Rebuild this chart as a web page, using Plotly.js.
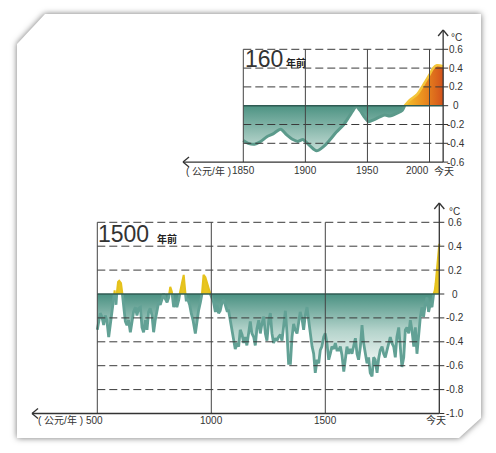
<!DOCTYPE html>
<html><head><meta charset="utf-8">
<script src="https://cdn.plot.ly/plotly-3.0.1.min.js"></script>
<style>
html,body{margin:0;padding:0;background:#fff;width:496px;height:453px;overflow:hidden;}
#shadow{position:absolute;left:0;top:0;width:496px;height:453px;filter:drop-shadow(0 0 3px rgba(0,0,0,0.55));}
#card{position:absolute;left:0;top:0;width:496px;height:453px;background:#fff;
 clip-path:polygon(45px 14px, 481px 14px, 481px 418px, 459px 438px, 17px 438px, 17px 44px);}
#chart{position:absolute;left:0;top:0;width:496px;height:453px;}
</style></head><body>
<div id="shadow"><div id="card"></div></div><div id="chart"></div>
<script>
const W = 496, H = 453;

// ---- Data: last 160 years ----
const recentYears = [1850,1854,1859,1864,1869,1874,1880,1885,1890,1894,1898,1900,1904,1909,1915,1920,1925,1931,1936,1941,1944,1948,1951,1955,1960,1964,1968,1974,1978,1980,1984,1990,1995,2000,2003,2006,2011];
const recentTemps = [-0.37,-0.40,-0.41,-0.38,-0.33,-0.30,-0.25,-0.31,-0.36,-0.38,-0.36,-0.38,-0.43,-0.48,-0.43,-0.36,-0.28,-0.20,-0.10,-0.01,-0.05,-0.13,-0.17,-0.15,-0.12,-0.10,-0.11,-0.08,-0.05,0.00,0.06,0.12,0.22,0.33,0.40,0.43,0.42];

// ---- Data: last 1500 years ----
const longYears = [
 500,506,513,520,528,535,542,550,557,564,572,576,582,586,591,596,
 604,610,615,623,630,637,645,652,659,667,674,681,689,696,
 703,711,718,725,732,740,747,754,762,769,776,784,791,798,
 806,813,820,827,835,842,849,857,864,871,879,883,890,898,
 905,912,920,930,937,944,952,959,966,974,981,988,996,1001,
 1010,1018,1025,1032,1039,1047,1054,1061,1069,1076,1083,1091,1098,
 1105,1113,1120,1127,1135,1142,1149,1156,1164,1171,1178,1186,1193,1200,
 1208,1215,1222,1230,1237,1244,1252,1259,1266,1273,1281,1288,1295,1303,
 1310,1317,1325,1332,1339,1347,1354,1361,1368,1376,1383,1390,1398,1405,
 1412,1420,1427,1434,1442,1449,1456,1464,1471,1478,1485,1493,1500,1507,
 1515,1522,1529,1537,1544,1551,1559,1566,1573,1581,1588,1595,1602,1610,
 1617,1624,1632,1639,1646,1654,1661,1668,1675,1683,1690,1697,1705,1712,
 1719,1727,1734,1741,1749,1756,1763,1770,1778,1785,1792,1800,1807,1814,
 1822,1829,1836,1844,1851,1858,1866,1873,1880,1888,1895,1902,1909,1917,
 1924,1931,1939,1946,1953,1961,1968,1975,1980,1984,1990,1994,1998,2000];
const longTemps = [
 -0.30,-0.22,-0.16,-0.19,-0.26,-0.18,-0.22,-0.36,-0.26,-0.14,-0.04,0.03,-0.09,0.02,0.10,0.11,
 0.09,0.00,-0.11,-0.23,-0.26,-0.22,-0.32,-0.22,-0.15,-0.11,-0.18,-0.12,-0.11,-0.28,
 -0.32,-0.22,-0.30,-0.15,-0.12,-0.18,-0.32,-0.22,-0.12,-0.07,-0.09,-0.03,0.00,-0.04,
 -0.07,-0.03,0.06,0.02,-0.11,-0.07,-0.11,-0.05,0.03,0.09,0.16,0.06,-0.05,-0.05,
 -0.09,-0.16,-0.22,-0.33,-0.22,-0.14,-0.07,0.00,0.16,0.14,0.10,0.06,0.00,-0.03,
 -0.07,-0.15,-0.09,-0.16,-0.14,-0.07,-0.05,-0.09,-0.14,-0.14,-0.22,-0.29,-0.36,
 -0.46,-0.41,-0.44,-0.30,-0.34,-0.41,-0.36,-0.43,-0.30,-0.23,-0.33,-0.36,-0.43,-0.29,
 -0.22,-0.33,-0.25,-0.19,-0.33,-0.39,-0.22,-0.16,-0.33,-0.41,-0.37,-0.39,-0.36,-0.34,
 -0.39,-0.28,-0.14,-0.33,-0.58,-0.58,-0.36,-0.25,-0.30,-0.33,-0.22,-0.15,-0.21,-0.30,
 -0.18,-0.11,-0.22,-0.34,-0.44,-0.50,-0.66,-0.55,-0.58,-0.47,-0.44,-0.36,-0.33,-0.41,
 -0.55,-0.50,-0.44,-0.46,-0.41,-0.47,-0.47,-0.44,-0.51,-0.65,-0.53,-0.44,-0.50,-0.46,
 -0.50,-0.43,-0.37,-0.50,-0.55,-0.44,-0.26,-0.41,-0.50,-0.58,-0.53,-0.66,-0.69,-0.53,
 -0.55,-0.66,-0.54,-0.47,-0.44,-0.50,-0.53,-0.48,-0.41,-0.36,-0.41,-0.44,-0.53,-0.36,
 -0.28,-0.44,-0.61,-0.53,-0.30,-0.28,-0.33,-0.22,-0.30,-0.44,-0.28,-0.50,-0.33,-0.19,
 -0.11,-0.19,-0.08,-0.03,-0.15,-0.08,-0.11,0.00,0.03,0.09,0.22,0.34,0.40,0.42];

// ---- Tick labels ----
const recentXTicks = [1850, 1900, 1950, 2000];
const recentYTicks = [0.6, 0.4, 0.2, 0, -0.2, -0.4, -0.6];
const recentYLabels = ['0.6','0.4','0.2','0','-0.2','-0.4','-0.6'];
const longXTicks = [500, 1000, 1500];
const longYTicks = [0.6, 0.4, 0.2, 0, -0.2, -0.4, -0.6, -0.8, -1.0];
const longYLabels = ['0.6','0.4','0.2','0','-0.2','-0.4','-0.6','-0.8','-1.0'];
const recentToday = 2011, longToday = 2000;
const unitLabel = '( 公元/年 )', todayLabel = '今天', agoLabel = '年前', degLabel = '°C';

const FONT = 'Liberation Sans, Arial, Noto Sans CJK SC, sans-serif';
const INK = '#333333';

function geom(g){
  return {
    domX:[g.l/W, g.r/W], domY:[1-g.b/H, 1-g.t/H],
    rangeX:[g.x0Val+(g.l-g.x0Px)/g.xScale, g.x0Val+(g.r-g.x0Px)/g.xScale],
    rangeY:[-(g.b-g.y0Px)/g.yScale, (g.y0Px-g.t)/g.yScale],
    dx:p=>p/g.xScale, dy:p=>p/g.yScale,
    xAt:p=>g.x0Val+(p-g.x0Px)/g.xScale, yAt:p=>(g.y0Px-p)/g.yScale
  };
}
const G1 = geom({l:175,r:460,t:22,b:178,x0Px:243.3,x0Val:1850,xScale:1.2413,y0Px:105.7,yScale:94});
const G2 = geom({l:22,r:460,t:195,b:440,x0Px:97.3,x0Val:500,xScale:0.228,y0Px:294,yScale:119.5});

function splitSigns(xs, ys){
  const neg={x:[],y:[]}, pos={x:[],y:[]};
  for(let i=0;i<xs.length;i++){
    const x=xs[i], y=ys[i];
    if(i>0){
      const xp=xs[i-1], yp=ys[i-1];
      if((yp<0&&y>0)||(yp>0&&y<0)){
        const xc = xp+(x-xp)*(-yp)/(y-yp);
        neg.x.push(xc); neg.y.push(0); pos.x.push(xc); pos.y.push(0);
      }
    }
    if(y<=0){neg.x.push(x); neg.y.push(y);}
    if(y>=0){pos.x.push(x); pos.y.push(y);}
    if(y>0){neg.x.push(x); neg.y.push(null);}
    if(y<0){pos.x.push(x); pos.y.push(null);}
  }
  return {neg,pos};
}

const s1 = splitSigns(recentYears, recentTemps);
const s2 = splitSigns(longYears, longTemps);

const traces = [
  {x:s1.neg.x, y:s1.neg.y, xaxis:'x', yaxis:'y', mode:'lines', fill:'tozeroy',
   line:{color:'#5b9a8b', width:3, shape:'spline', smoothing:0.8},
   fillgradient:{type:'vertical', start:-0.5, stop:0, colorscale:[[0,'#c9e0d9'],[1,'#4d9383']]},
   hoverinfo:'skip', showlegend:false},
  {x:s1.pos.x, y:s1.pos.y, xaxis:'x', yaxis:'y', mode:'lines', fill:'tozeroy',
   line:{color:'#f3c53a', width:2.5, shape:'spline', smoothing:0.8},
   fillgradient:{type:'horizontal', start:1980, stop:2011, colorscale:[[0,'#f5c22c'],[0.5,'#ea8c1e'],[1,'#d3521b']]},
   hoverinfo:'skip', showlegend:false},
  {x:s2.neg.x, y:s2.neg.y, xaxis:'x2', yaxis:'y2', mode:'lines', fill:'tozeroy',
   line:{color:'#62a195', width:2.8},
   fillgradient:{type:'vertical', start:-0.62, stop:0, colorscale:[[0,'#f6f9f8'],[0.5,'#b5d4cc'],[1,'#4a9182']]},
   hoverinfo:'skip', showlegend:false},
  {x:s2.pos.x, y:s2.pos.y, xaxis:'x2', yaxis:'y2', mode:'lines', fill:'tozeroy',
   line:{color:'#e5c21c', width:2}, fillcolor:'#e8c522',
   hoverinfo:'skip', showlegend:false}
];

const shapes = [], annotations = [];
function line(xr, yr, x0, y0, x1, y1, color, width, dash){
  shapes.push({type:'line', xref:xr, yref:yr, x0, y0, x1, y1, layer:'above',
    line:{color, width, dash: dash||'solid'}});
}
function text(xr, yr, x, y, t, size, xanchor, opts){
  annotations.push(Object.assign({xref:xr, yref:yr, x, y, text:t, showarrow:false,
    xanchor:xanchor||'center', yanchor:'middle',
    font:{family:FONT, size, color:INK}}, opts||{}));
}

function buildChart(G, xr, yr, xTicks, yTicks, yLabels, today, axisLeftPx, arrowTopPx, yLabelPx){
  const yMin = yTicks[yTicks.length-1], yMax = yTicks[0];
  const x0 = xTicks[0];
  yTicks.forEach(v=>{
    if(v!==0 && v!==yMin) line(xr, yr, x0, v, today, v, '#3a3a3a', 1, '8px,4px');
    line(xr, yr, today, v, today+G.dx(5), v, INK, 1);
  });
  line(xr, yr, x0, 0, today, 0, '#2f5b53', 1.5);
  xTicks.forEach(t=> line(xr, yr, t, yMin, t, yMax, '#444', 1));
  const xl = G.xAt(axisLeftPx);
  line(xr, yr, xl, yMin, today, yMin, INK, 1.3);
  line(xr, yr, xl, yMin, xl+G.dx(6), yMin+G.dy(5), INK, 1.3);
  line(xr, yr, xl, yMin, xl+G.dx(6), yMin-G.dy(5), INK, 1.3);
  const yt = G.yAt(arrowTopPx);
  line(xr, yr, today, yMin, today, yt, INK, 1.3);
  line(xr, yr, today, yt, today-G.dx(5), yt-G.dy(6), INK, 1.3);
  line(xr, yr, today, yt, today+G.dx(5), yt-G.dy(6), INK, 1.3);
  yTicks.forEach((v,i)=> text(xr, yr, G.xAt(yLabelPx), v, yLabels[i], 10, 'center'));
}

buildChart(G1, 'x', 'y', recentXTicks, recentYTicks, recentYLabels, recentToday, 183, 30, 456);
buildChart(G2, 'x2', 'y2', longXTicks, longYTicks, longYLabels, longToday, 32, 203, 454.5);

// top chart labels
const yl1 = G1.yAt(170.5);
text('x','y', G1.xAt(233), yl1, unitLabel, 10, 'right');
recentXTicks.forEach((t,i)=>{
  if(i===recentXTicks.length-1) text('x','y', t+G1.dx(1), yl1, String(t), 10, 'right');
  else text('x','y', t, yl1, String(t), 10, 'center');
});
text('x','y', G1.xAt(443.5), yl1, todayLabel, 10, 'center');
text('x','y', G1.xAt(449), G1.yAt(37), degLabel, 10, 'left');
text('x','y', G1.xAt(243), G1.yAt(58.5), '160', 23, 'left');
text('x','y', G1.xAt(284), G1.yAt(62), agoLabel, 10, 'left', {font:{family:'Noto Sans CJK SC, sans-serif', size:10, color:'#222', weight:700}});

// bottom chart labels
const yl2 = G2.yAt(420);
text('x2','y2', G2.xAt(85), yl2, unitLabel, 10, 'right');
longXTicks.forEach((t,i)=>{
  if(i===0) text('x2','y2', G2.xAt(94.5), yl2, String(t), 10, 'center');
  else text('x2','y2', t, yl2, String(t), 10, 'center');
});
text('x2','y2', G2.xAt(435.5), yl2, todayLabel, 10, 'center');
text('x2','y2', G2.xAt(447), G2.yAt(211.5), degLabel, 10, 'left');
text('x2','y2', G2.xAt(96), G2.yAt(234), '1500', 23, 'left');
text('x2','y2', G2.xAt(155), G2.yAt(238), agoLabel, 10, 'left', {font:{family:'Noto Sans CJK SC, sans-serif', size:10, color:'#222', weight:700}});

const ax = (dom, range, anchor)=>({domain:dom, range, anchor, visible:false, fixedrange:true});
const layout = {
  width:W, height:H, margin:{l:0,r:0,t:0,b:0},
  paper_bgcolor:'rgba(0,0,0,0)', plot_bgcolor:'rgba(0,0,0,0)',
  showlegend:false,
  xaxis: ax(G1.domX, G1.rangeX, 'y'),
  yaxis: ax(G1.domY, G1.rangeY, 'x'),
  xaxis2: ax(G2.domX, G2.rangeX, 'y2'),
  yaxis2: ax(G2.domY, G2.rangeY, 'x2'),
  shapes, annotations
};
Plotly.newPlot('chart', traces, layout, {staticPlot:true, displayModeBar:false});
</script></body></html>
